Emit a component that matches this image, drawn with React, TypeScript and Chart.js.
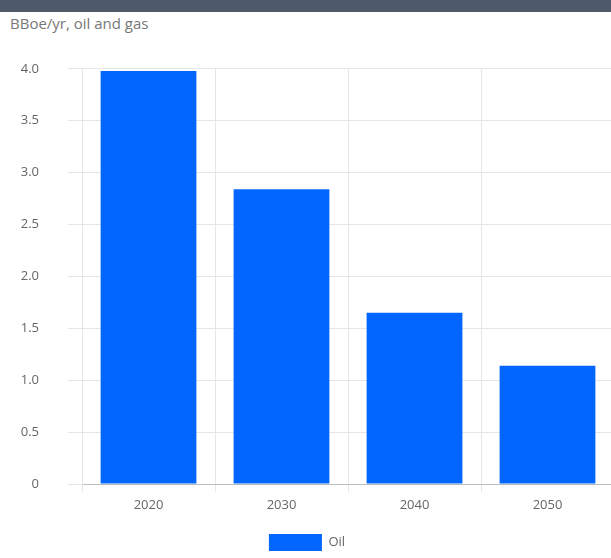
import { useEffect, useRef } from "react";
import { Chart, registerables } from "chart.js";

Chart.register(...registerables);

const years = ["2020", "2030", "2040", "2050"];
const oil = [3.98, 2.84, 1.65, 1.14];
const yTicks = [0, 0.5, 1, 1.5, 2, 2.5, 3, 3.5, 4];

const FONT = "'Open Sans', 'Noto Sans', sans-serif";

export default function App() {
  const canvasRef = useRef<HTMLCanvasElement>(null);
  const chartRef = useRef<Chart<"bar"> | null>(null);

  useEffect(() => {
    document.body.style.margin = "0";
    if (!canvasRef.current) return;
    const ctx = canvasRef.current.getContext("2d");
    if (!ctx) return;

    chartRef.current?.destroy();
    chartRef.current = new Chart(ctx, {
      type: "bar",
      data: {
        labels: years,
        datasets: [
          {
            label: "Oil",
            data: oil,
            backgroundColor: "#0066ff",
            borderWidth: 0,
            categoryPercentage: 0.8,
            barPercentage: 0.9,
          },
        ],
      },
      options: {
        animation: false,
        responsive: true,
        maintainAspectRatio: false,
        layout: { padding: 0 },
        plugins: {
          legend: {
            position: "bottom",
            labels: {
              boxWidth: 53,
              boxHeight: 17,
              padding: 5,
              color: "#666",
              font: { family: FONT, size: 13 },
            },
          },
          tooltip: { enabled: false },
        },
        scales: {
          x: {
            // fixed axis height keeps the zero line where the reference has it
            afterFit: (scale) => {
              scale.height = 45;
            },
            grid: { color: "#e6e6e6", tickLength: 8 },
            border: { color: "#bdbdbd" },
            ticks: { color: "#666", font: { family: FONT, size: 13 }, padding: 5 },
          },
          y: {
            min: 0,
            max: 4,
            afterBuildTicks: (axis) => {
              axis.ticks = yTicks.map((v) => ({ value: v }));
            },
            afterFit: (scale) => {
              scale.width = 82;
            },
            grid: { color: "#e6e6e6", tickLength: 14 },
            border: { color: "#e6e6e6" },
            ticks: {
              color: "#666",
              font: { family: FONT, size: 13 },
              padding: 29,
              callback: (v) => (Number(v) === 0 ? "0" : Number(v).toFixed(1)),
            },
          },
        },
      },
    });

    return () => {
      chartRef.current?.destroy();
      chartRef.current = null;
    };
  }, []);

  return (
    <div
      style={{
        position: "fixed",
        left: 0,
        top: 0,
        width: 611,
        height: 558,
        overflow: "hidden",
        background: "#fff",
      }}
    >
      <div style={{ height: 12, background: "#4e5969" }} />
      <div
        style={{
          position: "absolute",
          left: 10,
          top: 13,
          fontFamily: FONT,
          fontSize: 15,
          color: "#777",
        }}
      >
        BBoe/yr, oil and gas
      </div>
      <div style={{ position: "absolute", left: 0, top: 32, width: 614, height: 529 }}>
        <canvas ref={canvasRef} />
      </div>
    </div>
  );
}
